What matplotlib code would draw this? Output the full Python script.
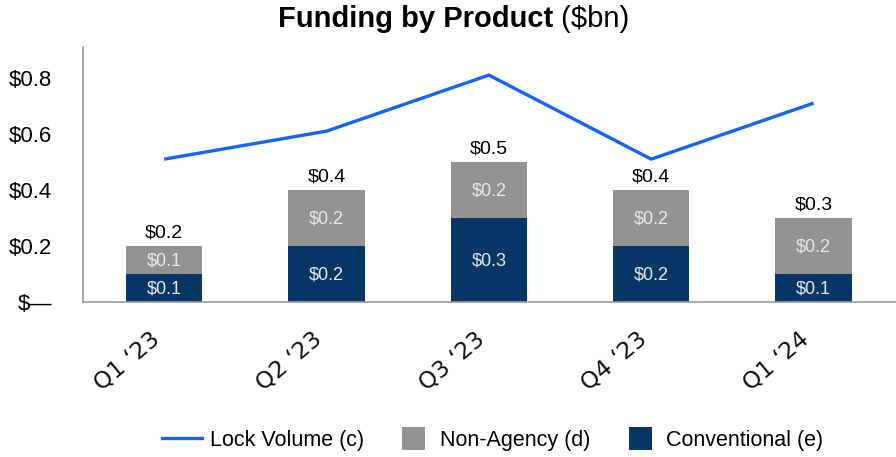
import matplotlib
matplotlib.use("Agg")
import matplotlib.pyplot as plt
from matplotlib.lines import Line2D
from matplotlib.patches import Patch, Rectangle
from matplotlib.legend_handler import HandlerPatch

quarters = ["Q1 \u201823", "Q2 \u201823", "Q3 \u201823", "Q4 \u201823", "Q1 \u201824"]
conventional = [0.1, 0.2, 0.3, 0.2, 0.1]
non_agency = [0.1, 0.2, 0.2, 0.2, 0.2]
lock_volume = [0.51, 0.61, 0.81, 0.51, 0.71]
conv_labels = ["$0.1", "$0.2", "$0.3", "$0.2", "$0.1"]
nonag_labels = ["$0.1", "$0.2", "$0.2", "$0.2", "$0.2"]
total_labels = ["$0.2", "$0.4", "$0.5", "$0.4", "$0.3"]
yticks = [0.0, 0.2, 0.4, 0.6, 0.8]
ytick_labels = ["$\u2014", "$0.2", "$0.4", "$0.6", "$0.8"]

base = "Liberation Sans"
plt.rcParams["font.family"] = [base, "DejaVu Sans"]

C_NAVY = "#063766"
C_GREY = "#939393"
C_BLUE = "#1463FF"

fig = plt.figure(figsize=(8.96, 4.57), dpi=100)
ax = fig.add_axes([0.0926, 0.339, 0.906, 0.558])

x = list(range(len(quarters)))
w = 0.47
ax.bar(x, conventional, width=w, color=C_NAVY, zorder=2)
ax.bar(x, non_agency, width=w, bottom=conventional, color=C_GREY, zorder=2)
ax.plot(x, lock_volume, color=C_BLUE, lw=2.4, zorder=3, solid_capstyle="butt")

for i in x:
    ax.text(i, conventional[i] / 2 - 0.003, conv_labels[i], ha="center", va="center",
            color="#e8e8e8", fontsize=13, zorder=4)
    ax.text(i, conventional[i] + non_agency[i] / 2 - 0.003, nonag_labels[i], ha="center", va="center",
            color="#e8e8e8", fontsize=13, zorder=4)
    tot = conventional[i] + non_agency[i]
    ax.text(i, tot + 0.016, total_labels[i], ha="center", va="bottom",
            color="black", fontsize=14, zorder=4)

ax.set_xlim(-0.5, 4.5)
ax.set_ylim(0, 0.91)
ax.set_yticks(yticks)
ax.set_yticklabels(ytick_labels, fontsize=16)
ax.set_xticks(x)
ax.set_xticklabels(quarters, rotation=40, ha="right", fontsize=16.8,
                   family=["DejaVu Sans"], color="#111111")
ax.tick_params(axis="both", length=0)
ax.tick_params(axis="y", pad=22)
ax.tick_params(axis="x", pad=18)
for s in ["top", "right"]:
    ax.spines[s].set_visible(False)
for s in ["left", "bottom"]:
    ax.spines[s].set_color("#999999")
    ax.spines[s].set_linewidth(1.2)
for lab in ax.get_xticklabels():
    lab.set_x(lab.get_position()[0])


def square(legend, orig_handle, xdescent, ydescent, width, height, fontsize):
    side = 16.5
    return Rectangle((width - side - 5 - xdescent, -ydescent + height / 2 - side / 2), side, side)


handles = [Line2D([0], [0], color=C_BLUE, lw=2.4),
           Patch(facecolor=C_GREY), Patch(facecolor=C_NAVY)]
fig.legend(handles, ["Lock Volume (c)", "Non-Agency (d)", "Conventional (e)"],
           loc="center", bbox_to_anchor=(0.550, 0.037), ncol=3, frameon=False,
           prop={"size": 15.5}, handlelength=1.86, columnspacing=1.3,
           handletextpad=0.37,
           handler_map={Patch: HandlerPatch(patch_func=square)})

t1 = fig.text(0.5, 0.941, "Funding by Product", ha="left", va="baseline",
              fontsize=21, fontweight="bold")
t2 = fig.text(0.5, 0.941, " ($bn)", ha="left", va="baseline", fontsize=21)
fig.canvas.draw()
r = fig.canvas.get_renderer()
b1 = t1.get_window_extent(r)
b2 = t2.get_window_extent(r)
total_w = b1.width + b2.width
x0 = 453.5 - total_w / 2
t1.set_x(x0 / fig.bbox.width)
t2.set_x((x0 + b1.width) / fig.bbox.width)

fig.savefig("out.png", dpi=100)
